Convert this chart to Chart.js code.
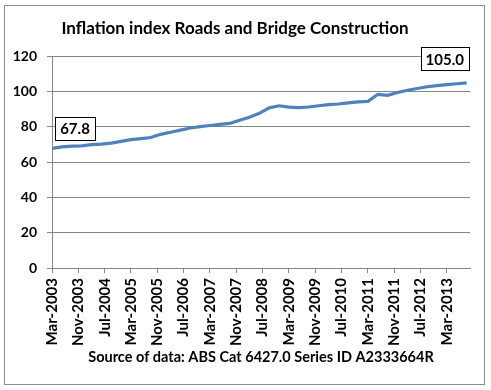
<!DOCTYPE html>
<html>
<head>
<meta charset="utf-8">
<script src="https://cdn.jsdelivr.net/npm/chart.js@4"></script>
<style>
  html, body { margin: 0; padding: 0; background: #fff; }
  #wrap { width: 491px; height: 390px; position: relative; }
</style>
</head>
<body>
<div id="wrap"><canvas id="myLineChart"></canvas></div>
<script>
// quarterly index, Mar-2003 .. Sep-2013
const quarters = [
  "Mar-2003", "Jun-2003", "Sep-2003", "Dec-2003",
  "Mar-2004", "Jun-2004", "Sep-2004", "Dec-2004",
  "Mar-2005", "Jun-2005", "Sep-2005", "Dec-2005",
  "Mar-2006", "Jun-2006", "Sep-2006", "Dec-2006",
  "Mar-2007", "Jun-2007", "Sep-2007", "Dec-2007",
  "Mar-2008", "Jun-2008", "Sep-2008", "Dec-2008",
  "Mar-2009", "Jun-2009", "Sep-2009", "Dec-2009",
  "Mar-2010", "Jun-2010", "Sep-2010", "Dec-2010",
  "Mar-2011", "Jun-2011", "Sep-2011", "Dec-2011",
  "Mar-2012", "Jun-2012", "Sep-2012", "Dec-2012",
  "Mar-2013", "Jun-2013", "Sep-2013"
];
const indexValues = [
  67.8, 68.7, 69.1, 69.3,
  70.0, 70.3, 70.8, 71.8,
  72.8, 73.4, 74.0, 75.8,
  77.0, 78.2, 79.4, 80.2,
  80.8, 81.4, 82.0, 83.8,
  85.5, 87.7, 90.8, 92.0,
  91.2, 91.0, 91.3, 92.0,
  92.6, 93.0, 93.6, 94.2,
  94.5, 98.5, 97.9, 99.5,
  100.8, 101.8, 102.8, 103.4,
  104.0, 104.5, 105.0
];
const xTickLabels = [
  "Mar-2003", "Nov-2003", "Jul-2004", "Mar-2005", "Nov-2005", "Jul-2006",
  "Mar-2007", "Nov-2007", "Jul-2008", "Mar-2009", "Nov-2009", "Jul-2010",
  "Mar-2011", "Nov-2011", "Jul-2012", "Mar-2013"
];
const yTicks = [0, 20, 40, 60, 80, 100, 120];

const monthNames = ["Jan","Feb","Mar","Apr","May","Jun","Jul","Aug","Sep","Oct","Nov","Dec"];
// months since Mar-2003
function monthIndex(label) {
  const [m, y] = label.split("-");
  return (parseInt(y) - 2003) * 12 + monthNames.indexOf(m) - 2;
}

const points = quarters.map((q, i) => ({ x: monthIndex(q), y: indexValues[i] }));
const tickMonths = xTickLabels.map(monthIndex);

const FONT = "Lato, 'Open Sans', sans-serif";

// outer frame like the excel chart border
const framePlugin = {
  id: "frame",
  beforeDraw(chart) {
    const ctx = chart.ctx;
    ctx.save();
    ctx.fillStyle = "#fff";
    ctx.fillRect(0, 0, chart.width, chart.height);
    ctx.strokeStyle = "#8c8c8c";
    ctx.lineWidth = 1;
    ctx.strokeRect(4.5, 5.5, 480, 379);
    ctx.restore();
  }
};

// boxed labels on first and last point
const endLabels = {
  id: "endLabels",
  afterDatasetsDraw(chart) {
    const ctx = chart.ctx;
    const xs = chart.scales.x;
    const ys = chart.scales.y;
    const n = points.length - 1;
    const items = [
      { p: points[0], dx: 23, dy: -20 },
      { p: points[n], dx: -22, dy: -24 }
    ];
    ctx.save();
    ctx.font = "bold 15px " + FONT;
    ctx.textAlign = "center";
    ctx.textBaseline = "middle";
    items.forEach(it => {
      const txt = it.p.y.toFixed(1);
      const w = Math.round(ctx.measureText(txt).width + 10);
      const h = 23;
      const cx = xs.getPixelForValue(it.p.x) + it.dx;
      const cy = ys.getPixelForValue(it.p.y) + it.dy;
      const bx = Math.round(cx - w / 2) + 0.5;
      const by = Math.round(cy - h / 2) + 0.5;
      ctx.fillStyle = "#fff";
      ctx.fillRect(bx, by, w, h);
      ctx.strokeStyle = "#000";
      ctx.lineWidth = 1;
      ctx.strokeRect(bx, by, w, h);
      ctx.fillStyle = "#000";
      ctx.fillText(txt, cx, cy + 1);
    });
    ctx.restore();
  }
};

const ctx = document.getElementById("myLineChart").getContext("2d");
new Chart(ctx, {
  type: "line",
  data: {
    datasets: [{
      label: "Index",
      data: points,
      borderColor: "#4F81BD",
      borderWidth: 3.2,
      pointRadius: 0,
      tension: 0,
      fill: false
    }]
  },
  options: {
    responsive: true,
    maintainAspectRatio: false,
    animation: false,
    layout: { padding: { left: 0, right: 21, top: 0, bottom: 22 } },
    scales: {
      x: {
        type: "linear",
        min: 0,
        max: 127,
        afterBuildTicks: scale => {
          scale.ticks = tickMonths.map(v => ({ value: v }));
        },
        afterFit: scale => { scale.height = 100; },
        grid: { drawOnChartArea: false, drawTicks: true, tickLength: 5, color: "#868686" },
        border: { color: "#868686" },
        ticks: {
          autoSkip: false,
          minRotation: 90,
          maxRotation: 90,
          padding: 5,
          color: "#000",
          font: { family: FONT, size: 15, weight: "bold" },
          callback: v => xTickLabels[tickMonths.indexOf(v)]
        },
        title: {
          display: true,
          text: "Source of data: ABS Cat 6427.0 Series ID A2333664R",
          color: "#000",
          font: { family: FONT, size: 14.5, weight: "bold" },
          padding: { top: 0, bottom: 2 }
        }
      },
      y: {
        min: 0,
        max: 120,
        afterBuildTicks: scale => {
          scale.ticks = yTicks.map(v => ({ value: v }));
        },
        afterFit: scale => { scale.width = 52; },
        grid: { color: "#868686", tickLength: 5 },
        border: { color: "#868686" },
        ticks: {
          padding: 10,
          color: "#000",
          font: { family: FONT, size: 14, weight: "bold" }
        }
      }
    },
    plugins: {
      legend: { display: false },
      tooltip: { enabled: false },
      title: {
        display: true,
        text: "Inflation index Roads and Bridge Construction",
        color: "#000",
        font: { family: FONT, size: 17, weight: "bold" },
        padding: { top: 18, bottom: 18 }
      }
    }
  },
  plugins: [framePlugin, endLabels]
});
</script>
</body>
</html>
